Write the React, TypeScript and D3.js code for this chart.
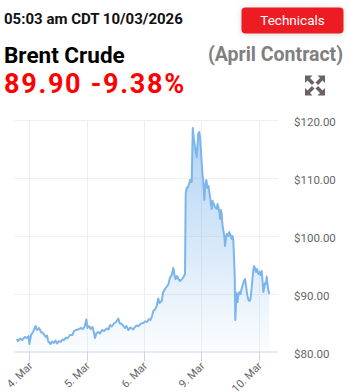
import React, { useEffect, useRef } from "react";
import * as d3 from "d3";

// trading-day index: 0 = 4 Mar, 1 = 5 Mar, 2 = 6 Mar, 3 = 9 Mar, 4 = 10 Mar
const times: number[] = [
  -0.22, -0.197, -0.162, -0.127, -0.075, -0.04, -0.014, 0.003, 0.03, 0.065,
  0.112, 0.134, 0.169, 0.204, 0.239, 0.286, 0.309, 0.331, 0.373, 0.396,
  0.431, 0.457, 0.488, 0.518, 0.548, 0.579, 0.605, 0.64, 0.663, 0.71,
  0.75, 0.779, 0.809, 0.849, 0.896, 0.936, 0.966, 0.994, 1.015, 1.041,
  1.071, 1.102, 1.128, 1.146, 1.172, 1.203, 1.233, 1.268, 1.303, 1.35,
  1.381, 1.407, 1.437, 1.477, 1.512, 1.552, 1.573, 1.611, 1.639, 1.669,
  1.695, 1.726, 1.765, 1.813, 1.843, 1.872, 1.912, 1.947, 1.988, 2.017,
  2.052, 2.087, 2.113, 2.14, 2.162, 2.192, 2.221, 2.249, 2.27, 2.309,
  2.331, 2.366, 2.392, 2.424, 2.453, 2.483, 2.511, 2.532, 2.549, 2.576,
  2.598, 2.628, 2.657, 2.689, 2.715, 2.727, 2.745, 2.772, 2.79, 2.802,
  2.832, 2.85, 2.872, 2.889, 2.919, 2.933, 2.947, 2.965, 2.976, 2.993,
  3.006, 3.02, 3.034, 3.052, 3.064, 3.087, 3.107, 3.125, 3.151, 3.181,
  3.195, 3.209, 3.239, 3.268, 3.282, 3.296, 3.317, 3.326, 3.34, 3.355,
  3.369, 3.383, 3.399, 3.413, 3.43, 3.442, 3.47, 3.487, 3.508, 3.529,
  3.543, 3.557, 3.569, 3.582, 3.587, 3.592, 3.604, 3.617, 3.631, 3.643,
  3.664, 3.682, 3.702, 3.726, 3.743, 3.761, 3.778, 3.79, 3.804, 3.822,
  3.839, 3.857, 3.874, 3.892, 3.906, 3.921, 3.935, 3.953, 3.97, 3.993,
  4.014, 4.031, 4.052, 4.066, 4.08, 4.092, 4.11, 4.127, 4.139, 4.153,
  4.167, 4.185,
];

const prices: number[] = [
  82.16, 81.81, 82.24, 81.98, 82.5, 82.33, 82.67, 81.29, 82.84, 83.36,
  84.4, 83.71, 84.05, 83.36, 83.19, 82.5, 82.76, 81.72, 81.29, 81.72,
  81.47, 81.9, 81.38, 81.81, 81.64, 82.07, 81.98, 82.41, 82.24, 82.84,
  82.84, 83.53, 83.71, 83.79, 84.05, 83.88, 84.31, 85.52, 84.05, 84.4,
  83.88, 84.22, 83.19, 82.33, 83.19, 83.36, 83.1, 83.71, 83.53, 83.97,
  83.79, 84.57, 84.31, 84.83, 85.09, 85.69, 84.91, 84.74, 84.4, 84.05,
  84.4, 83.71, 84.14, 83.79, 84.22, 84.48, 84.4, 84.83, 84.91, 85.17,
  85.09, 85.6, 85.43, 86.12, 86.98, 87.24, 87.84, 89.14, 88.36, 88.71,
  90.09, 90.78, 91.12, 91.55, 92.67, 93.19, 94.4, 93.19, 92.5, 93.02,
  92.5, 92.16, 92.41, 92.84, 93.36, 107.33, 108.19, 108.45, 109.05, 109.57,
  109.22, 118.53, 116.47, 115.26, 113.53, 115.6, 117.67, 117.84, 116.98, 114.74,
  112.67, 110.43, 109.4, 106.12, 108.19, 109.57, 108.19, 108.53, 106.64, 104.57,
  105.95, 105.6, 104.91, 104.57, 105.43, 104.91, 103.88, 102.84, 104.4, 103.71,
  101.64, 100.95, 99.91, 98.19, 99.57, 100.26, 99.91, 100.6, 100.09, 99.4,
  99.91, 99.22, 96.47, 93.02, 89.05, 85.43, 88.02, 90.09, 88.53, 89.57,
  90.26, 89.91, 90.78, 91.64, 92.16, 92.5, 91.47, 90.43, 89.57, 88.88,
  88.71, 89.05, 90.6, 92.67, 94.05, 94.74, 94.4, 93.71, 94.22, 93.36,
  93.71, 93.19, 93.88, 92.33, 90.26, 90.78, 91.81, 91.64, 92.93, 91.72,
  90.6, 89.9,
];

const tickDays: number[] = [0, 1, 2, 3, 4];
const tickLabels: string[] = ["4. Mar", "5. Mar", "6. Mar", "9. Mar", "10. Mar"];
const yTicks: number[] = [80, 90, 100, 110, 120];

const timestamp = "05:03 am CDT 10/03/2026";
const title = "Brent Crude";
const contract = "(April Contract)";
const lastPrice = "89.90";
const change = "-9.38%";

export default function App() {
  const ref = useRef<SVGGElement>(null);

  const left = 14, right = 278, top = 119.5, bottom = 351.5;
  const x = d3.scaleLinear().domain([0, 4]).range([29.3, 258.7]);
  const y = d3.scaleLinear().domain([80, 120]).range([bottom, top]);

  useEffect(() => {
    const g = d3.select(ref.current);
    g.selectAll("*").remove();
    const data = times.map((t, i) => [t, prices[i]] as [number, number]);

    // horizontal grid
    g.selectAll("line.hg")
      .data(yTicks.filter((v) => v !== 80))
      .enter()
      .append("line")
      .attr("x1", left)
      .attr("x2", right)
      .attr("y1", (d) => Math.round(y(d)) + 0.5)
      .attr("y2", (d) => Math.round(y(d)) + 0.5)
      .attr("stroke", "#efefef")
      .attr("stroke-width", 1);

    // vertical grid
    g.selectAll("line.vg")
      .data(tickDays)
      .enter()
      .append("line")
      .attr("x1", (d) => Math.round(x(d)) + 0.5)
      .attr("x2", (d) => Math.round(x(d)) + 0.5)
      .attr("y1", top)
      .attr("y2", bottom)
      .attr("stroke", "#efefef")
      .attr("stroke-width", 1);

    // area
    const defs = g.append("defs");
    const grad = defs
      .append("linearGradient")
      .attr("id", "areaGrad")
      .attr("x1", 0)
      .attr("y1", 0)
      .attr("x2", 0)
      .attr("y2", 1);
    grad.append("stop").attr("offset", "0%").attr("stop-color", "#7cb5ec").attr("stop-opacity", 0.6);
    grad.append("stop").attr("offset", "100%").attr("stop-color", "#7cb5ec").attr("stop-opacity", 0.03);

    const area = d3
      .area<[number, number]>()
      .x((d) => x(d[0]))
      .y0(bottom)
      .y1((d) => y(d[1]));
    g.append("path").attr("d", area(data)!).attr("fill", "url(#areaGrad)");

    const line = d3
      .line<[number, number]>()
      .x((d) => x(d[0]))
      .y((d) => y(d[1]));
    g.append("path")
      .attr("d", line(data)!)
      .attr("fill", "none")
      .attr("stroke", "#7cb5ec")
      .attr("stroke-width", 2)
      .attr("stroke-linejoin", "round");

    // x axis line
    g.append("line")
      .attr("x1", left)
      .attr("x2", right)
      .attr("y1", bottom + 0.5)
      .attr("y2", bottom + 0.5)
      .attr("stroke", "#ccd6eb");

    // x ticks
    g.selectAll("line.xt")
      .data(tickDays)
      .enter()
      .append("line")
      .attr("x1", (d) => Math.round(x(d)) + 0.5)
      .attr("x2", (d) => Math.round(x(d)) + 0.5)
      .attr("y1", bottom)
      .attr("y2", bottom + 10)
      .attr("stroke", "#ccd6eb");

    g.selectAll("text.xl")
      .data(tickDays)
      .enter()
      .append("text")
      .attr("transform", (d) => `translate(${x(d) + 4},${bottom + 15}) rotate(-45)`)
      .attr("text-anchor", "end")
      .attr("font-family", "Roboto, sans-serif")
      .attr("font-size", 11)
      .attr("fill", "#666666")
      .text((d, i) => tickLabels[i]);

    // y labels
    g.selectAll("text.yl")
      .data(yTicks)
      .enter()
      .append("text")
      .attr("x", 294)
      .attr("y", (d) => y(d) + 6)
      .attr("font-family", "Roboto, sans-serif")
      .attr("font-size", 11.5)
      .attr("fill", "#666666")
      .text((d) => "$" + d3.format(".2f")(d));
  }, []);

  const arrows = [
    [-1, -1],
    [1, -1],
    [-1, 1],
    [1, 1],
  ];

  return (
    <div style={{ position: "absolute", left: 0, top: 0, width: 350, height: 392, background: "#fff" }}>
      <svg width={350} height={392} style={{ display: "block" }}>
        <defs>
          <filter id="btnShadow" x="-20%" y="-40%" width="140%" height="180%">
            <feDropShadow dx="0" dy="1" stdDeviation="3" floodColor="#000" floodOpacity="0.15" />
          </filter>
        </defs>
        <text x={4} y={24} fontFamily="Roboto, sans-serif" fontWeight="bold" fontSize={15} fill="#111">
          {timestamp}
        </text>
        <rect x={241.5} y={7.5} width={102} height={26} rx={4} fill="#ed1c24" filter="url(#btnShadow)" />
        <text x={292.5} y={25} textAnchor="middle" fontFamily="Roboto, sans-serif" fontSize={13.5} fill="#fff">
          Technicals
        </text>
        <text x={4} y={62.5} fontFamily="Roboto, sans-serif" fontWeight="bold" fontSize={22.5} fill="#000">
          {title}
        </text>
        <text x={343} y={61} textAnchor="end" fontFamily="Roboto, sans-serif" fontWeight="bold" fontSize={19.5} fill="#808080">
          {contract}
        </text>
        <text x={4} y={93} fontFamily="Roboto, sans-serif" fontWeight="bold" fontSize={27} letterSpacing={1.7} fill="#ff0000">
          {lastPrice + " " + change}
        </text>
        {/* expand icon */}
        <g transform="translate(315,85.5)">
          {arrows.map(([sx, sy], i) => (
            <g key={i}>
              <path d={`M${sx * 10},${sy * 10} L${sx * 2.5},${sy * 10} L${sx * 10},${sy * 2.5} Z`} fill="#6b6163" />
              <line x1={sx * 6.5} y1={sy * 6.5} x2={sx * 1.8} y2={sy * 1.8} stroke="#6b6163" strokeWidth={3.6} />
            </g>
          ))}
        </g>
        <g ref={ref} />
      </svg>
    </div>
  );
}
